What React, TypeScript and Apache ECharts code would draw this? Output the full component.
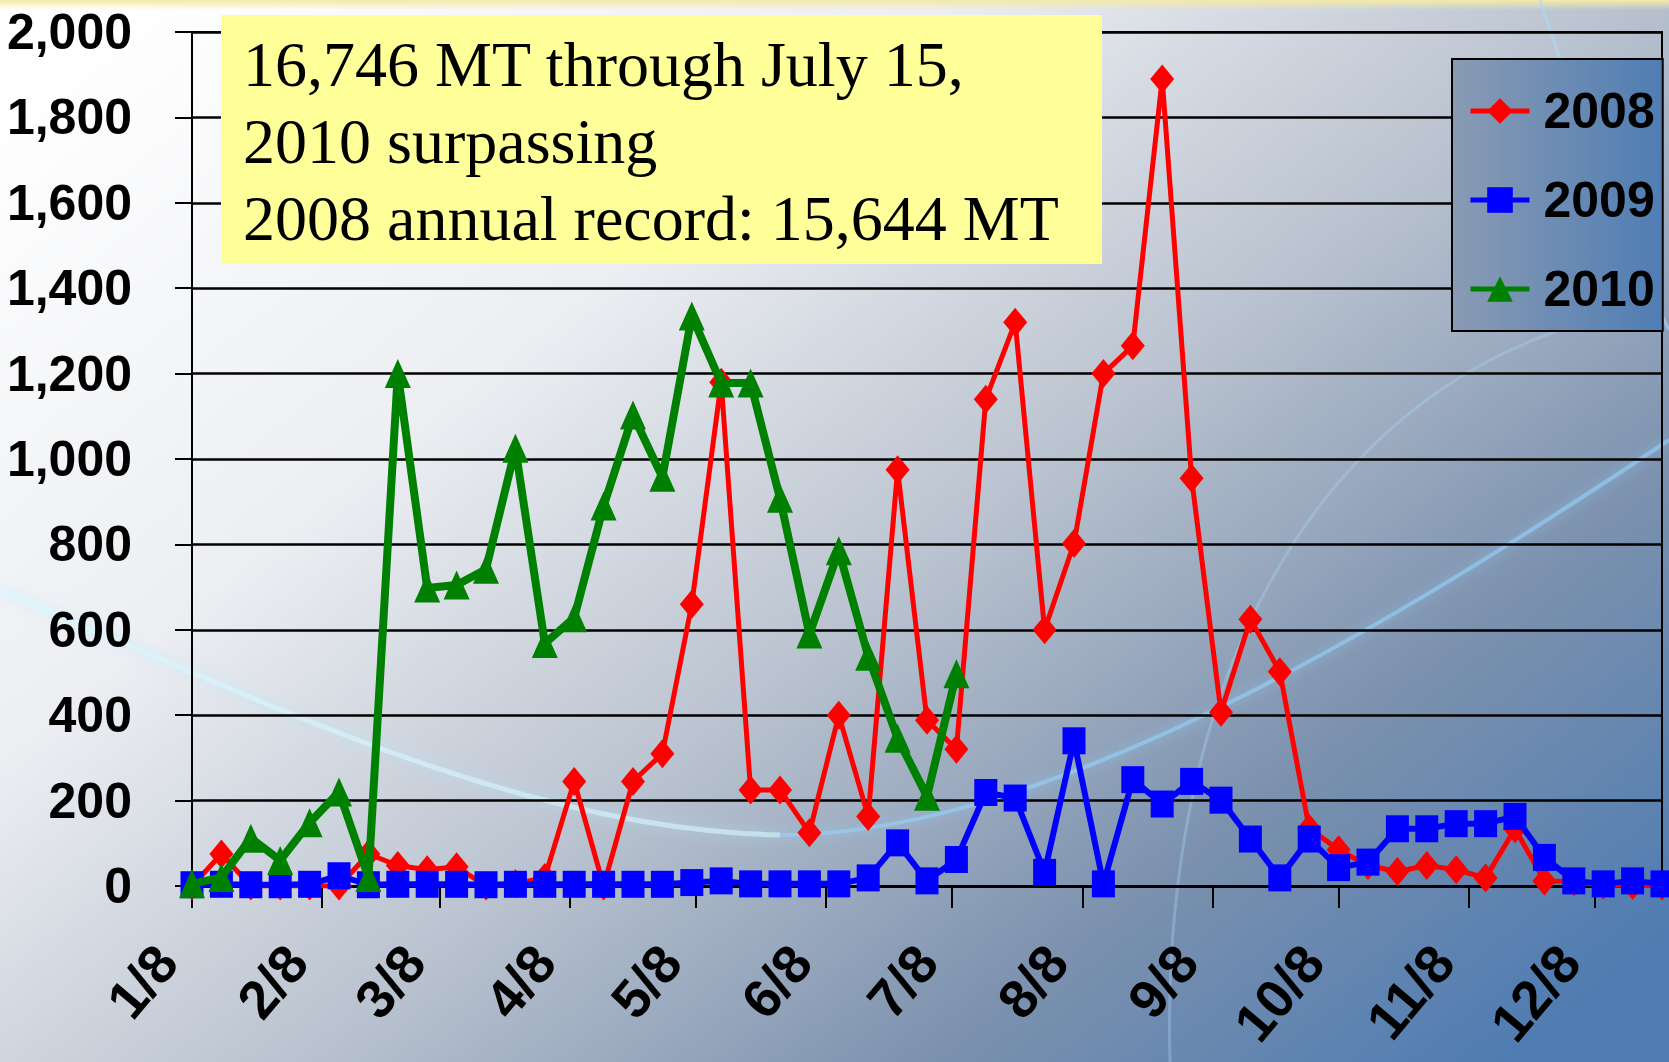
import React, { useEffect, useRef } from "react";
import * as echarts from "echarts";

// ---- data ----
const monthLengths = [31, 28, 31, 30, 31, 30, 31, 31, 30, 31, 30, 31];
const firstMonth = 1;
const firstDay = 8;
const dayCount = 351; // Jan 8 .. Dec 24, daily categories
const xTickLabels = ["1/8", "2/8", "3/8", "4/8", "5/8", "6/8", "7/8", "8/8", "9/8", "10/8", "11/8", "12/8"];
const seriesNames = ["2008", "2009", "2010"];
const seriesColors = ["#ff0000", "#0000ff", "#008000"];

// weekly values (MT), one per week from 1/8
const values2008 = [
  0, 75, 0, 0, 0, 0, 75, 48, 38, 45, 0, 5, 20, 245, 0, 245, 310, 660, 1180, 225,
  225, 125, 400, 163, 975, 388, 320, 1140, 1320, 600, 802, 1200, 1265, 1890, 955, 407, 625, 502, 135, 85,
  48, 34, 48, 38, 19, 134, 12, 10, 2, 2, 0,
];
const values2009 = [
  3, 4, 3, 3, 4, 24, 3, 4, 4, 4, 3, 4, 4, 4, 4, 4, 4, 8, 12, 5,
  5, 5, 5, 19, 101, 12, 62, 219, 206, 32, 340, 5, 249, 192, 245, 201, 110, 19, 110, 43,
  56, 134, 134, 146, 146, 163, 67, 12, 5, 12, 5,
];
const values2010 = [
  5, 20, 112, 60, 148, 220, 20, 1200, 698, 705, 742, 1025, 568, 628, 890, 1103, 957, 1335, 1178, 1178,
  908, 590, 785, 538, 346, 210, 497,
];
const noteLines = ["16,746 MT through July 15,", "2010 surpassing", "2008 annual record: 15,644 MT"];

const SANS = '"Liberation Sans", Arial, sans-serif';
const SERIF = '"Liberation Serif", "Times New Roman", serif';

function buildDays(): string[] {
  const out: string[] = [];
  let m = firstMonth;
  let d = firstDay;
  for (let i = 0; i < dayCount; i++) {
    out.push(`${m}/${d}`);
    d++;
    if (d > monthLengths[m - 1]) {
      d = 1;
      m = m === 12 ? 1 : m + 1;
    }
  }
  return out;
}

function weeklyToDaily(vals: number[]): (number | null)[] {
  const arr: (number | null)[] = new Array(dayCount).fill(null);
  vals.forEach((v, i) => {
    arr[i * 7] = v;
  });
  return arr;
}

export default function App() {
  const ref = useRef<HTMLDivElement>(null);

  useEffect(() => {
    if (!ref.current) return;
    const chart = echarts.init(ref.current, undefined, { renderer: "svg" });
    const days = buildDays();
    const isMonthTick = (_i: number, v: string) => xTickLabels.includes(v);
    const symbols = ["diamond", "rect", "triangle"];
    const lineWidths = [5, 6, 8];
    const symbolSizes = [[24, 29], [23, 27], [26, 29]];
    const allVals = [values2008, values2009, values2010];

    const series = seriesNames.map((name, k) => ({
      name,
      type: "line",
      data: weeklyToDaily(allVals[k]),
      connectNulls: true,
      showAllSymbol: true,
      symbol: symbols[k],
      symbolSize: symbolSizes[k],
      lineStyle: { color: seriesColors[k], width: lineWidths[k] },
      itemStyle: { color: seriesColors[k] },
      z: 3 + k,
    }));

    chart.setOption({
      animation: false,
      graphic: [
        {
          type: "rect",
          z: -100,
          silent: true,
          shape: { x: 0, y: 0, width: 1669, height: 1062 },
          style: {
            fill: new echarts.graphic.LinearGradient(0, 0.1, 1, 0.9, [
              { offset: 0, color: "#ffffff" },
              { offset: 0.3, color: "#eceef2" },
              { offset: 0.55, color: "#b9c2cf" },
              { offset: 0.78, color: "#7b91ae" },
              { offset: 1, color: "#4d7bb2" },
            ]),
          },
        },
        {
          type: "rect",
          z: -99,
          silent: true,
          shape: { x: 0, y: 0, width: 1669, height: 10 },
          style: {
            fill: new echarts.graphic.LinearGradient(0, 0, 0, 1, [
              { offset: 0, color: "#f3eaa8" },
              { offset: 1, color: "rgba(243,234,168,0)" },
            ]),
          },
        },
        {
          type: "bezierCurve",
          z: -98,
          silent: true,
          shape: { x1: 0, y1: 590, cpx1: 260, cpy1: 700, cpx2: 520, cpy2: 830, x2: 780, y2: 835 },
          style: { stroke: "rgba(215,248,255,0.6)", lineWidth: 5, fill: "none", shadowBlur: 14, shadowColor: "rgba(170,230,255,0.9)" },
        },
        {
          type: "bezierCurve",
          z: -98,
          silent: true,
          shape: { x1: 780, y1: 835, cpx1: 1050, cpy1: 835, cpx2: 1400, cpy2: 620, x2: 1669, y2: 440 },
          style: { stroke: "rgba(150,210,250,0.6)", lineWidth: 4, fill: "none", shadowBlur: 12, shadowColor: "rgba(140,210,255,0.9)" },
        },
        {
          type: "bezierCurve",
          z: -98,
          silent: true,
          shape: { x1: 1170, y1: 1062, cpx1: 1160, cpy1: 700, cpx2: 1300, cpy2: 420, x2: 1560, y2: 330 },
          style: { stroke: "rgba(170,215,250,0.35)", lineWidth: 3, fill: "none" },
        },
        {
          type: "bezierCurve",
          z: -98,
          silent: true,
          shape: { x1: 1540, y1: 0, cpx1: 1580, cpy1: 120, cpx2: 1630, cpy2: 250, x2: 1669, y2: 330 },
          style: { stroke: "rgba(170,220,255,0.55)", lineWidth: 3, fill: "none" },
        },
        {
          type: "rect",
          z: 50,
          silent: true,
          shape: { x: 221, y: 15, width: 881, height: 249 },
          style: { fill: "#ffff99" },
        },
        ...noteLines.map((t, i) => ({
          type: "text",
          z: 51,
          silent: true,
          x: 243,
          y: 64 + i * 77,
          style: {
            text: t,
            font: `64px ${SERIF}`,
            fill: "#000",
            verticalAlign: "middle",
            align: "left",
          },
        })),
      ],
      grid: {
        left: 192,
        right: 7,
        top: 32,
        bottom: 176,
        containLabel: false,
        outerBoundsMode: "none",
        show: true,
        borderColor: "#000",
        borderWidth: 2,
        backgroundColor: "transparent",
      },
      legend: {
        data: seriesNames,
        orient: "vertical",
        left: 1452,
        top: 59,
        padding: [22, 8, 12, 16],
        itemGap: 29,
        itemWidth: 59,
        itemHeight: 32,
        lineStyle: { width: 5 },
        borderColor: "#000",
        borderWidth: 2,
        borderRadius: 0,
        backgroundColor: new echarts.graphic.LinearGradient(0, 0, 1, 0, [
          { offset: 0, color: "#8a9bb3" },
          { offset: 1, color: "#4f7db4" },
        ]),
        textStyle: {
          fontFamily: SANS,
          fontWeight: "bold",
          fontSize: 50,
          lineHeight: 60,
          color: "#000",
          padding: [0, 0, 0, 9],
        },
        z: 40,
      },
      xAxis: {
        type: "category",
        data: days,
        boundaryGap: false,
        axisLine: { lineStyle: { color: "#000", width: 3 } },
        axisTick: { interval: isMonthTick, length: 22, lineStyle: { color: "#000", width: 2 } },
        axisLabel: {
          interval: isMonthTick,
          rotate: 50,
          margin: 36,
          padding: [0, 40, 0, 0],
          fontFamily: SANS,
          fontWeight: "bold",
          fontSize: 54,
          color: "#000",
        },
        splitLine: { show: false },
      },
      yAxis: {
        type: "value",
        min: 0,
        max: 2000,
        interval: 200,
        axisLine: { show: true, lineStyle: { color: "#000", width: 2 } },
        axisTick: { show: true, length: 17, lineStyle: { color: "#000", width: 2 } },
        axisLabel: {
          margin: 60,
          fontFamily: SANS,
          fontWeight: "bold",
          fontSize: 50,
          color: "#000",
          formatter: (v: number) => v.toLocaleString("en-US"),
        },
        splitLine: { show: true, lineStyle: { color: "#000", width: 2.5 } },
      },
      series,
    });

    return () => chart.dispose();
  }, []);

  return (
    <div
      ref={ref}
      style={{ position: "fixed", left: 0, top: 0, width: 1669, height: 1062 }}
    />
  );
}
